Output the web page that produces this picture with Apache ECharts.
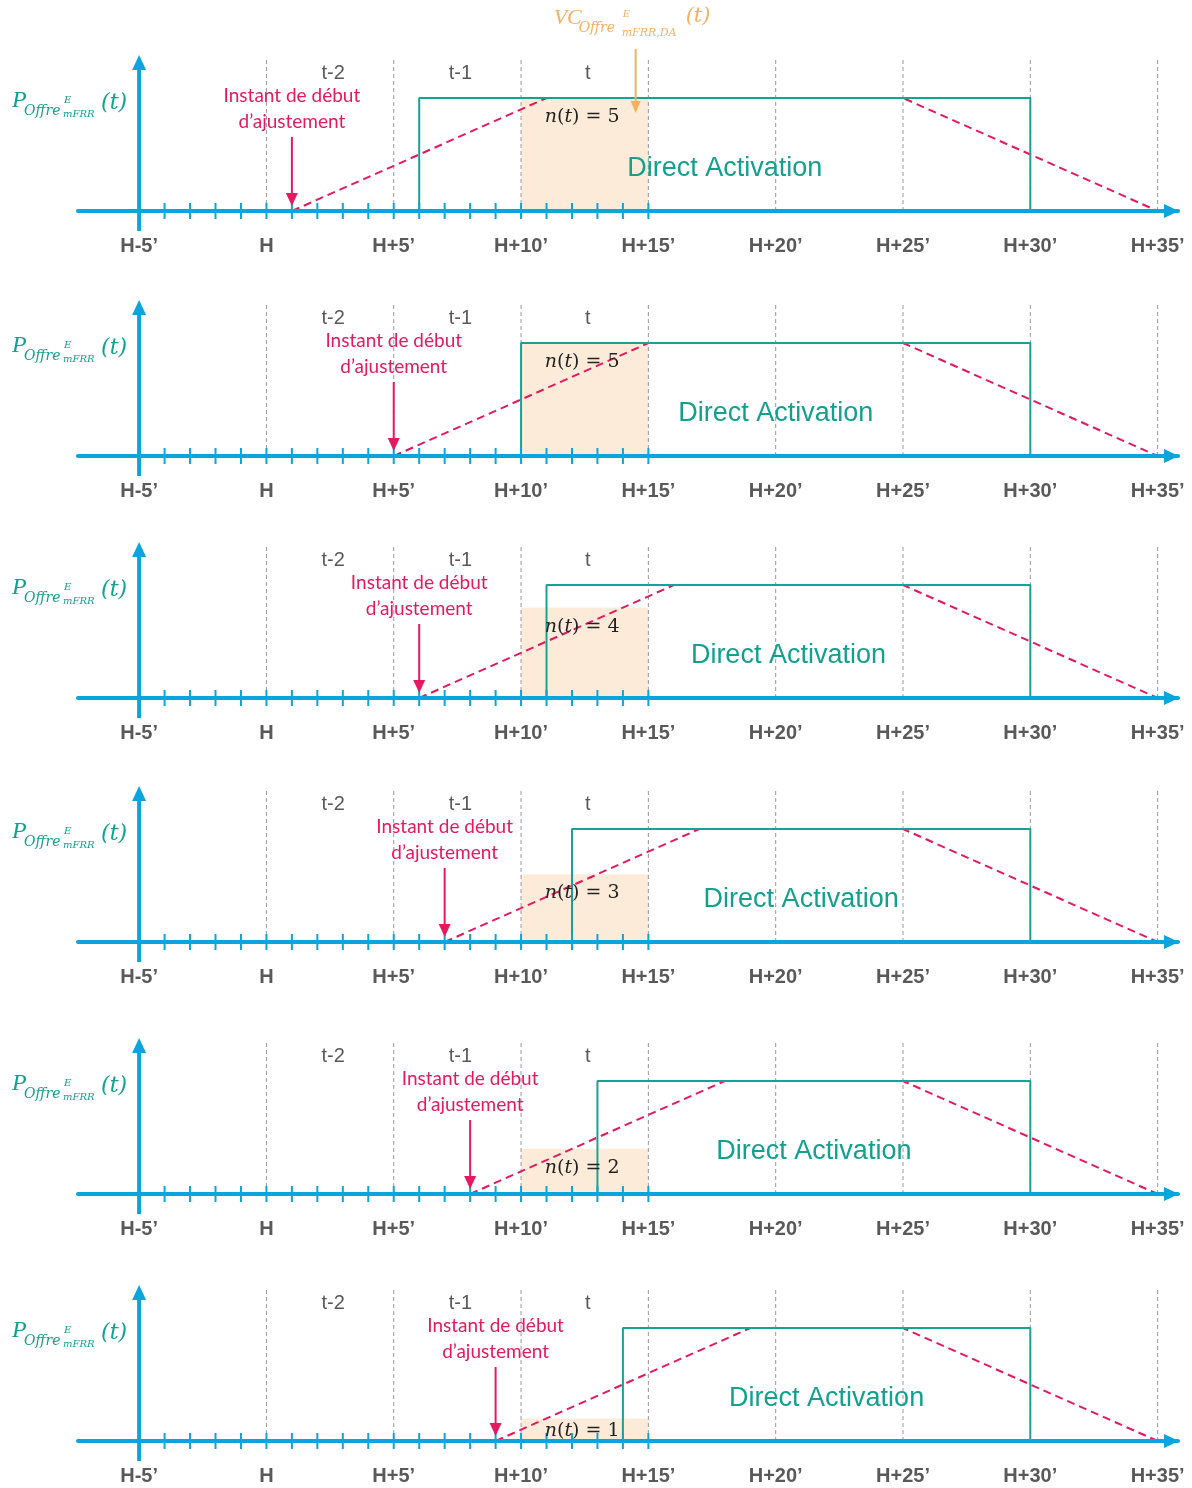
<!DOCTYPE html>
<html><head><meta charset="utf-8">
<script src="https://cdn.jsdelivr.net/npm/echarts@6/dist/echarts.min.js"></script>
<style>html,body{margin:0;padding:0;background:#fff}#c{width:1192px;height:1488px}</style>
</head><body><div id="c"></div>
<script>
// ---------- data ----------
const xLabelValues = [-5, 0, 5, 10, 15, 20, 25, 30, 35];
const xLabels = ['H-5’', 'H', 'H+5’', 'H+10’', 'H+15’', 'H+20’', 'H+25’', 'H+30’', 'H+35’'];
const minuteTicks = [-4, -3, -2, -1, 0, 1, 2, 3, 4, 5, 6, 7, 8, 9, 10, 11, 12, 13, 14, 15];
const guideLines = [0, 5, 10, 15, 20, 25, 30, 35];
const periodLabels = ['t-2', 't-1', 't'];
const periodCenters = [2.5, 7.5, 12.5];
const adjustStart = [1, 5, 6, 7, 8, 9];      // Instant de début d'ajustement
const rampTop = [11, 15, 16, 17, 18, 19];     // fin de rampe montante
const rampDownStart = [25, 25, 25, 25, 25, 25];
const rampEnd = [35, 35, 35, 35, 35, 35];
const daStart = [6, 10, 11, 12, 13, 14];      // Direct Activation start
const daEnd = [30, 30, 30, 30, 30, 30];
const nValues = [5, 5, 4, 3, 2, 1];
const nMax = 5;
const windowT = [10, 15];
const vcMinute = 14.5;

// ---------- style / layout ----------
const BLUE = '#0aa5dc', GREEN = '#17a394', RED = '#e5195f', BEIGE = '#fdebd9',
      GREYT = '#595959', GUIDE = '#9a9a9a', ORANGE = '#f5b060', TEAL = '#12a08f';
const axisY = [211, 456, 698, 942, 1194, 1441];
const U = 113;
const SANS = '"Liberation Sans", Arial, sans-serif';
const SERIF = '"DejaVu Serif", serif';
const TIMES = '"Liberation Serif", serif';
const CAL = 'Lato, "Open Sans", sans-serif';

function txt(x, y, text, font, fill, align, extra) {
  const st = Object.assign({ text: text, font: font, fill: fill,
    textAlign: align || 'center', align: align || 'center',
    textVerticalAlign: 'middle', verticalAlign: 'middle' }, extra || {});
  return { type: 'text', x: x, y: y, style: st };
}

const grids = [], xAxes = [], yAxes = [], series = [];
axisY.forEach(function (ay, i) {
  grids.push({ left: 78, width: 1100, top: ay - 1.8 * U, height: 1.8 * U, outerBoundsMode: 'none', containLabel: false });
  xAxes.push({
    type: 'value', gridIndex: i, min: -7.4, max: 35.8, z: 5,
    axisLine: { onZero: false, lineStyle: { color: BLUE, width: 4 } },
    axisTick: { show: false }, splitLine: { show: false },
    axisLabel: {
      customValues: xLabelValues,
      formatter: function (v) { const k = xLabelValues.indexOf(v); return k >= 0 ? xLabels[k] : ''; },
      fontWeight: 'bold', fontSize: 20, color: GREYT, fontFamily: SANS, margin: 25
    }
  });
  yAxes.push({ type: 'value', gridIndex: i, min: 0, max: 1.8, show: false });

  // beige window n(t)
  series.push({
    type: 'custom', xAxisIndex: i, yAxisIndex: i, z: 1, silent: true, clip: false,
    data: [[windowT[0], windowT[1], nValues[i] / nMax]],
    renderItem: function (params, api) {
      const p0 = api.coord([api.value(0), 0]);
      const p1 = api.coord([api.value(1), api.value(2)]);
      return { type: 'rect', shape: { x: p0[0], y: p1[1], width: p1[0] - p0[0], height: p0[1] - p1[1] },
        style: { fill: BEIGE } };
    }
  });
  // guide dashed lines
  series.push({
    type: 'custom', xAxisIndex: i, yAxisIndex: i, z: 2, silent: true, clip: false,
    data: guideLines.map(function (v) { return [v]; }),
    renderItem: function (params, api) {
      const a = api.coord([api.value(0), 0]);
      const b = api.coord([api.value(0), 1.34]);
      return { type: 'line', shape: { x1: a[0], y1: a[1], x2: b[0], y2: b[1] },
        style: { stroke: GUIDE, lineWidth: 1, lineDash: [4, 3] } };
    }
  });
  // red dashed ramp
  series.push({
    type: 'line', xAxisIndex: i, yAxisIndex: i, z: 3, silent: true, symbol: 'none',
    data: [[adjustStart[i], 0], [rampTop[i], 1], [rampDownStart[i], 1], [rampEnd[i], 0]],
    lineStyle: { color: RED, width: 2, type: [8, 5] }
  });
  // green Direct Activation block
  series.push({
    type: 'line', xAxisIndex: i, yAxisIndex: i, z: 4, silent: true, symbol: 'none',
    data: [[daStart[i], 0], [daStart[i], 1], [daEnd[i], 1], [daEnd[i], 0]],
    lineStyle: { color: GREEN, width: 2 }
  });
  // minute ticks
  series.push({
    type: 'custom', xAxisIndex: i, yAxisIndex: i, z: 6, silent: true, clip: false,
    data: minuteTicks.map(function (v) { return [v]; }),
    renderItem: function (params, api) {
      const a = api.coord([api.value(0), 0]);
      return { type: 'line', shape: { x1: a[0], y1: a[1] - 8, x2: a[0], y2: a[1] + 8 },
        style: { stroke: BLUE, lineWidth: 2 } };
    }
  });
  // annotations
  series.push({
    type: 'custom', xAxisIndex: i, yAxisIndex: i, z: 7, silent: true, clip: false,
    data: [[0]],
    renderItem: function (params, api) {
      const c = function (x, y) { return api.coord([x, y]); };
      const ch = [];
      // vertical axis with arrow
      const yb = c(-5, 0), yt = c(-5, 1.38);
      ch.push({ type: 'line', shape: { x1: yb[0], y1: yb[1] + 20, x2: yt[0], y2: yt[1] + 10 }, style: { stroke: BLUE, lineWidth: 4 } });
      ch.push({ type: 'polygon', shape: { points: [[yt[0], yt[1]], [yt[0] - 7, yt[1] + 15], [yt[0] + 7, yt[1] + 15]] }, style: { fill: BLUE } });
      // x arrow head
      const xr = c(35.8, 0);
      ch.push({ type: 'polygon', shape: { points: [[xr[0] + 1, xr[1]], [xr[0] - 14, xr[1] - 7], [xr[0] - 14, xr[1] + 7]] }, style: { fill: BLUE } });
      // y label
      const base = c(-5, 1);
      const bx = base[0], by = base[1] + 2;
      ch.push(txt(bx - 127, by + 1, 'P', 'italic 24px ' + TIMES, TEAL, 'left'));
      ch.push(txt(bx - 115, by + 11, 'Offre', 'italic 14px ' + SERIF, TEAL, 'left'));
      ch.push(txt(bx - 75, by + 0, 'E', 'italic 10px ' + SERIF, TEAL, 'left'));
      ch.push(txt(bx - 76, by + 14, 'mFRR', 'italic 10px ' + SERIF, TEAL, 'left'));
      ch.push(txt(bx - 38, by + 3, '(t)', 'italic 22px ' + SERIF, TEAL, 'left'));
      // period labels
      periodLabels.forEach(function (lab, k) {
        const p = c(periodCenters[k], 0);
        ch.push(txt(p[0] + 3, p[1] - 138, lab, '20px ' + SANS, GREYT));
      });
      // Instant de début d'ajustement
      const s = c(adjustStart[i], 0);
      ch.push(txt(s[0], s[1] - 115, 'Instant de début', '19px ' + CAL, RED));
      ch.push(txt(s[0], s[1] - 89, 'd’ajustement', '19px ' + CAL, RED));
      ch.push({ type: 'line', shape: { x1: s[0], y1: s[1] - 74, x2: s[0], y2: s[1] - 16 }, style: { stroke: RED, lineWidth: 2 } });
      ch.push({ type: 'polygon', shape: { points: [[s[0], s[1] - 5], [s[0] - 6, s[1] - 18], [s[0] + 6, s[1] - 18]] }, style: { fill: RED } });
      // Direct Activation
      const d = c((daStart[i] + daEnd[i]) / 2, 0);
      ch.push(txt(d[0], d[1] - 42, 'Direct Activation', '27px ' + SANS, TEAL));
      // n(t)
      const nt = c(12.4, nValues[i] / nMax);
      const ny = Math.min(nt[1] + 19, d[1] - 10);
      ch.push({ type: 'text', x: nt[0], y: ny, style: {
        text: '{i|n}{r|(}{i|t}{r|) = ' + nValues[i] + '}',
        textAlign: 'center', align: 'center', textVerticalAlign: 'middle', verticalAlign: 'middle',
        rich: { i: { font: 'italic 19px ' + SERIF, fill: '#222', color: '#222' }, r: { font: '19px ' + SERIF, fill: '#222', color: '#222' } }
      } });
      // VC label (first panel only)
      if (i === 0) {
        const v = c(vcMinute, 1);
        const vx = v[0], vy = v[1];
        const ax = vx - 82, ay0 = vy - 80;
        ch.push(txt(ax, ay0 + 0.5, 'VC', 'italic 22px ' + TIMES, ORANGE, 'left'));
        ch.push(txt(ax + 25, ay0 + 10, 'Offre', 'italic 14px ' + SERIF, ORANGE, 'left'));
        ch.push(txt(ax + 69, ay0 - 4, 'E', 'italic 10px ' + SERIF, ORANGE, 'left'));
        ch.push(txt(ax + 68, ay0 + 15, 'mFRR,DA', 'italic 11px ' + SERIF, ORANGE, 'left'));
        ch.push(txt(ax + 132, ay0 - 1, '(t)', 'italic 21px ' + SERIF, ORANGE, 'left'));
        ch.push({ type: 'line', shape: { x1: vx, y1: vy - 49, x2: vx, y2: vy + 4 }, style: { stroke: ORANGE, lineWidth: 2 } });
        ch.push({ type: 'polygon', shape: { points: [[vx, vy + 15], [vx - 5, vy + 3], [vx + 5, vy + 3]] }, style: { fill: ORANGE } });
      }
      return { type: 'group', children: ch };
    }
  });
});

const chart = echarts.init(document.getElementById('c'), null, { renderer: 'canvas' });
chart.setOption({
  animation: false,
  backgroundColor: '#fff',
  grid: grids, xAxis: xAxes, yAxis: yAxes, series: series
});
</script></body></html>
